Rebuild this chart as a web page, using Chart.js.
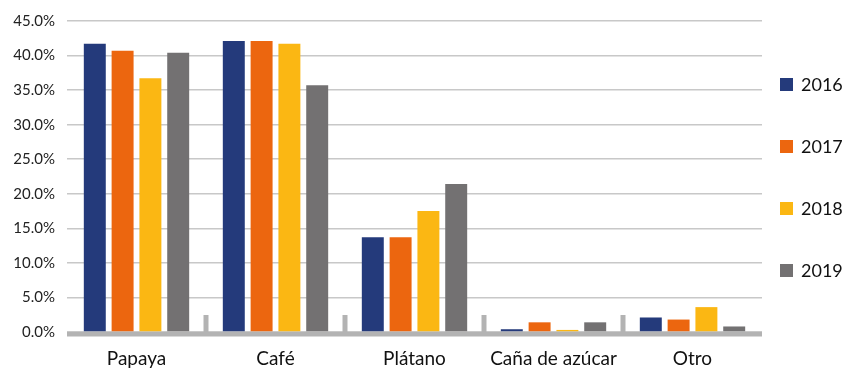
<!DOCTYPE html>
<html>
<head>
<meta charset="utf-8">
<script src="https://cdn.jsdelivr.net/npm/chart.js@4"></script>
<style>
  html, body { margin: 0; padding: 0; background: #fff; }
  #wrap { width: 850px; height: 371px; }
</style>
</head>
<body>
<div id="wrap"><canvas id="chart"></canvas></div>
<script>
const categories = ['Papaya', 'Café', 'Plátano', 'Caña de azúcar', 'Otro'];
const years = ['2016', '2017', '2018', '2019'];
const values2016 = [41.7, 42.1, 13.7, 0.4, 2.1];
const values2017 = [40.7, 42.1, 13.7, 1.4, 1.8];
const values2018 = [36.7, 41.7, 17.5, 0.3, 3.6];
const values2019 = [40.4, 35.7, 21.4, 1.4, 0.8];
const colors = ['#243a7b', '#ec660f', '#fbb713', '#737172'];

const series = [values2016, values2017, values2018, values2019];

// bottom axis band plus the short upright ticks between categories
const axisBand = {
  id: 'axisBand',
  afterDatasetsDraw(chart) {
    const { ctx, chartArea, scales } = chart;
    const x = scales.x;
    ctx.save();
    ctx.fillStyle = '#b3b3b3';
    ctx.fillRect(chartArea.left, chartArea.bottom, chartArea.right - chartArea.left, 4.5);
    const half = (x.getPixelForValue(1) - x.getPixelForValue(0)) / 2;
    for (let i = 0; i < categories.length - 1; i++) {
      const px = x.getPixelForValue(i) + half;
      ctx.fillRect(px - 2.5, chartArea.bottom - 17, 5, 17);
    }
    ctx.restore();
  }
};

// legend column to the right of the plot, widely spaced
const sideLegend = {
  id: 'sideLegend',
  afterDraw(chart) {
    const { ctx, chartArea } = chart;
    const sets = chart.data.datasets;
    const gap = 62;
    const mid = (chartArea.top + chartArea.bottom) / 2 + 1;
    const x0 = chartArea.right + 18;
    ctx.save();
    ctx.font = '18px Lato';
    ctx.textBaseline = 'middle';
    sets.forEach((ds, i) => {
      const cy = mid + (i - (sets.length - 1) / 2) * gap;
      ctx.fillStyle = ds.backgroundColor;
      ctx.fillRect(x0, cy - 6.5, 13, 13);
      ctx.fillStyle = '#111';
      ctx.fillText(ds.label, x0 + 21, cy + 1);
    });
    ctx.restore();
  }
};

const ctx = document.getElementById('chart').getContext('2d');
const chart = new Chart(ctx, {
  type: 'bar',
  plugins: [axisBand, sideLegend],
  data: {
    labels: categories,
    datasets: years.map((y, i) => ({
      label: y,
      data: series[i],
      backgroundColor: colors[i],
      borderWidth: 0,
      categoryPercentage: 0.8,
      barPercentage: 0.79
    }))
  },
  options: {
    responsive: true,
    maintainAspectRatio: false,
    animation: false,
    layout: {
      padding: { top: 18, left: 13, right: 88, bottom: 0 }
    },
    plugins: {
      tooltip: { enabled: false },
      legend: { display: false }
    },
    scales: {
      x: {
        grid: { display: false, drawTicks: false },
        border: { display: false },
        afterFit: (scale) => { scale.height = 39; },
        ticks: {
          color: '#111',
          padding: 15,
          maxRotation: 0,
          font: { family: 'Lato', size: 19 }
        }
      },
      y: {
        min: 0,
        max: 45,
        grid: {
          color: '#c8c8c8',
          lineWidth: 1.5,
          drawTicks: false
        },
        border: { display: false },
        afterFit: (scale) => { scale.width = 54; },
        ticks: {
          stepSize: 5,
          padding: 12,
          color: '#222',
          font: { family: 'Lato', size: 15 },
          callback: (v) => v.toFixed(1) + '%'
        }
      }
    }
  }
});
</script>
</body>
</html>
